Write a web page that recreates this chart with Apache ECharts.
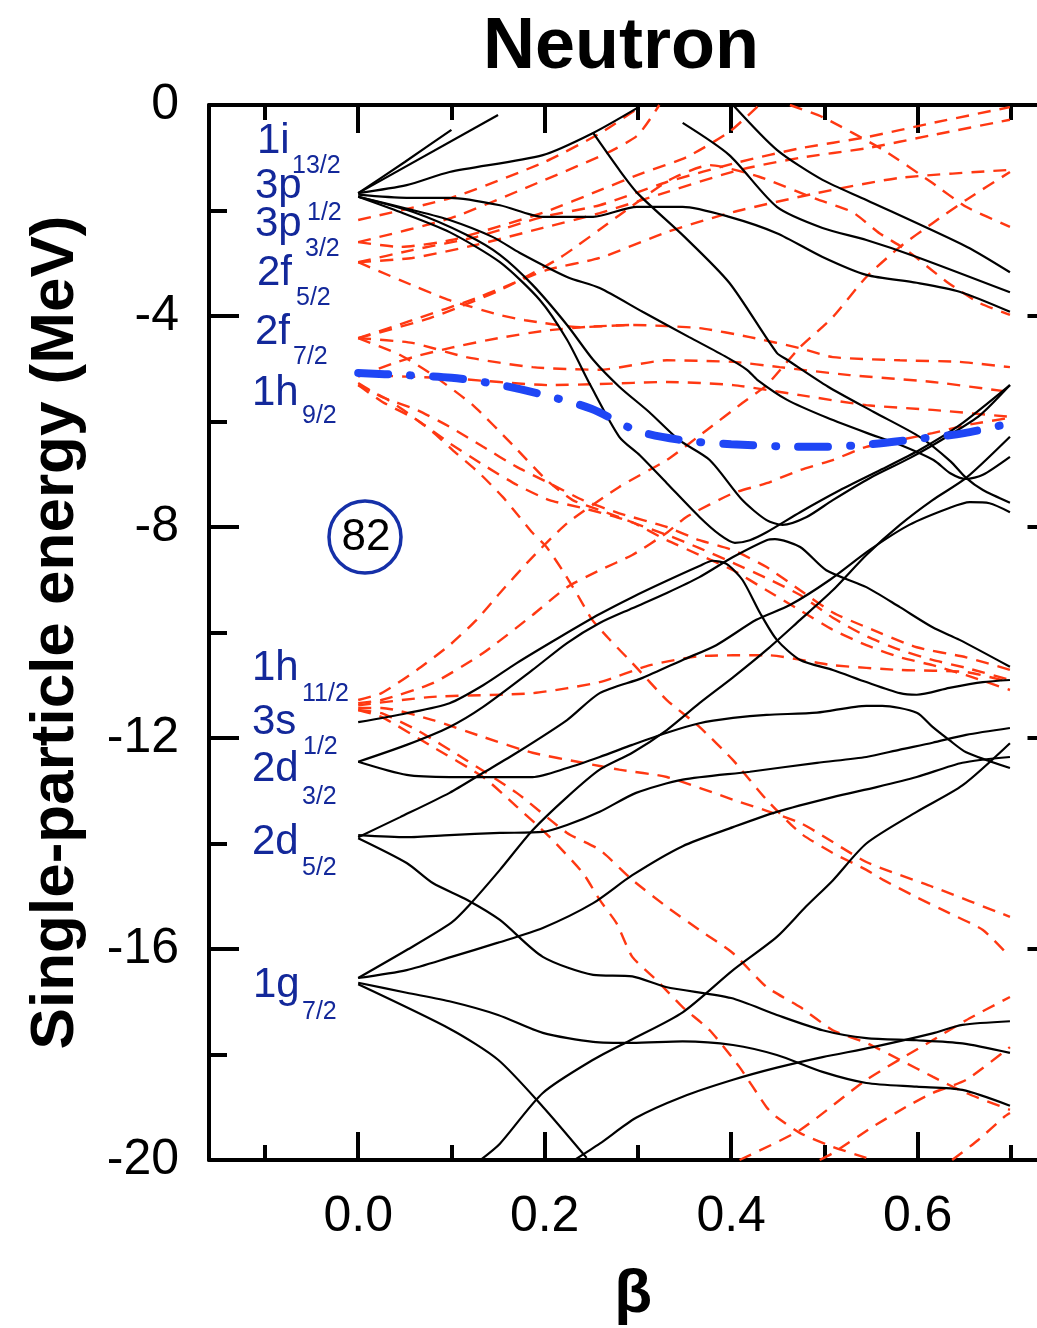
<!DOCTYPE html>
<html><head><meta charset="utf-8">
<script src="https://cdn.jsdelivr.net/npm/echarts@6/dist/echarts.min.js"></script>
<style>html,body{margin:0;padding:0;background:#fff}#c{width:1037px;height:1328px}</style>
</head><body><div id="c"></div>
<script>
// ---- axis ticks ----
const xMajorTicks = [0, 0.2, 0.4, 0.6];
const xMinorTicks = [-0.1, 0.1, 0.3, 0.5, 0.7];
const yMajorStep = 4, yMinorStep = 2;

// ---- blue highlighted level ----
const blueLevel = [[0,-5.08],[0.05,-5.12],[0.1,-5.17],[0.15,-5.3],[0.2,-5.5],[0.25,-5.76],[0.3,-6.18],[0.35,-6.36],[0.4,-6.43],[0.45,-6.47],[0.5,-6.48],[0.55,-6.43],[0.6,-6.33],[0.65,-6.22],[0.7,-6.03]];

// ---- black (positive parity) levels ----
const bI1 = [[0,-1.67],[0.05,-1.08],[0.1,-0.47]];
const bI2 = [[0,-1.67],[0.15,-0.19]];
const bI3 = [[0,-1.67],[0.052,-1.52],[0.098,-1.27],[0.198,-0.95],[0.252,-0.53],[0.299,-0.06]];
const bI4 = [[0,-1.7],[0.052,-1.76],[0.098,-1.76],[0.152,-1.9],[0.198,-2.12],[0.252,-2.12],[0.299,-1.93],[0.348,-1.93],[0.398,-2.12],[0.449,-2.43],[0.498,-2.88],[0.545,-3.22],[0.599,-3.37],[0.645,-3.54],[0.699,-3.92]];
const bI5 = [[0,-1.74],[0.058,-1.99],[0.098,-2.18],[0.144,-2.5],[0.173,-2.8],[0.224,-3.26],[0.259,-3.47],[0.305,-3.92],[0.355,-4.4],[0.395,-4.78],[0.417,-5.02],[0.428,-5.21],[0.46,-5.59],[0.503,-5.93],[0.546,-6.22],[0.581,-6.44],[0.617,-6.73],[0.635,-6.98],[0.652,-7.09],[0.67,-7.01],[0.699,-6.67]];
const bI6 = [[0,-1.74],[0.045,-2.03],[0.098,-2.41],[0.152,-2.98],[0.195,-3.7],[0.224,-4.45],[0.249,-5.31],[0.28,-6.29],[0.302,-6.64],[0.331,-7.17],[0.366,-7.81],[0.388,-8.15],[0.404,-8.3],[0.42,-8.25],[0.438,-8.1],[0.474,-7.72],[0.517,-7.3],[0.56,-6.92],[0.602,-6.54],[0.645,-6.07],[0.699,-5.31]];
const bI7 = [[0,-1.74],[0.059,-2.03],[0.116,-2.46],[0.152,-2.84],[0.187,-3.41],[0.224,-4.17],[0.252,-4.83],[0.28,-5.34],[0.312,-5.82],[0.344,-6.35],[0.377,-6.73],[0.412,-7.49],[0.438,-7.87],[0.455,-7.96],[0.481,-7.81],[0.509,-7.49],[0.549,-7.07],[0.592,-6.69],[0.634,-6.26],[0.667,-5.88],[0.699,-5.31]];
const bTop1 = [[0.402,0],[0.449,-0.85],[0.498,-1.42],[0.545,-1.8],[0.653,-2.69],[0.699,-3.17]];
const bTop2 = [[0.348,-0.34],[0.398,-0.95],[0.449,-1.93],[0.498,-2.33],[0.545,-2.56],[0.599,-2.88],[0.699,-3.55]];
const bDown1 = [[0.252,-0.53],[0.28,-1.23],[0.3,-1.68],[0.35,-2.5],[0.398,-3.37],[0.449,-4.7],[0.46,-4.83],[0.504,-5.34],[0.553,-5.82],[0.603,-6.3],[0.635,-6.75],[0.652,-7.07],[0.67,-7.3],[0.699,-7.54]];
const bS1 = [[0,-11.7],[0.052,-11.53],[0.098,-11.34],[0.134,-11.0],[0.17,-10.58],[0.216,-10.09],[0.259,-9.65],[0.294,-9.33],[0.331,-9.02],[0.366,-8.74],[0.38,-8.64],[0.395,-8.7],[0.412,-9.0],[0.431,-9.63],[0.449,-10.14],[0.474,-10.52],[0.509,-10.71],[0.545,-10.94],[0.581,-11.15],[0.599,-11.18],[0.634,-11.05],[0.67,-10.94],[0.699,-10.9]];
const bD1 = [[0,-12.45],[0.052,-12.13],[0.098,-11.79],[0.134,-11.41],[0.187,-10.71],[0.224,-10.2],[0.259,-9.82],[0.294,-9.54],[0.331,-9.25],[0.366,-8.95],[0.402,-8.57],[0.438,-8.25],[0.447,-8.23],[0.474,-8.38],[0.502,-8.82],[0.545,-9.14],[0.581,-9.52],[0.616,-9.9],[0.645,-10.14],[0.699,-10.65]];
const bD2 = [[0,-12.45],[0.052,-12.7],[0.098,-12.74],[0.15,-12.74],[0.187,-12.74],[0.224,-12.57],[0.259,-12.36],[0.294,-12.13],[0.331,-11.9],[0.366,-11.72],[0.402,-11.62],[0.438,-11.56],[0.492,-11.52],[0.545,-11.39],[0.562,-11.39],[0.599,-11.52],[0.616,-11.79],[0.634,-12.04],[0.652,-12.27],[0.699,-12.57]];
const bD5a = [[0,-13.88],[0.045,-13.5],[0.098,-13.04],[0.134,-12.66],[0.17,-12.28],[0.224,-11.66],[0.259,-11.15],[0.305,-10.86],[0.348,-10.52],[0.384,-10.24],[0.427,-9.76],[0.463,-9.48],[0.506,-9.0],[0.549,-8.43],[0.591,-7.96],[0.634,-7.64],[0.656,-7.53],[0.677,-7.55],[0.699,-7.72]];
const bD5b = [[0,-13.84],[0.052,-13.88],[0.098,-13.84],[0.152,-13.8],[0.198,-13.78],[0.224,-13.65],[0.259,-13.4],[0.298,-13.04],[0.348,-12.79],[0.42,-12.64],[0.492,-12.47],[0.545,-12.36],[0.581,-12.22],[0.616,-12.09],[0.652,-11.94],[0.699,-11.81]];
const bD5c = [[0,-13.9],[0.052,-14.37],[0.08,-14.75],[0.117,-15.07],[0.152,-15.45],[0.198,-16.15],[0.252,-16.49],[0.294,-16.52],[0.33,-16.72],[0.4,-16.93],[0.449,-17.25],[0.498,-17.54],[0.545,-17.69],[0.599,-17.73],[0.648,-17.79],[0.699,-17.97]];
const bG1 = [[0,-16.55],[0.052,-16.02],[0.1,-15.5],[0.119,-15.17],[0.152,-14.5],[0.187,-13.75],[0.224,-13.12],[0.259,-12.6],[0.294,-12.28],[0.331,-11.85],[0.366,-11.34],[0.402,-10.85],[0.438,-10.33],[0.474,-9.76],[0.509,-9.2],[0.545,-8.53],[0.581,-7.96],[0.616,-7.49],[0.652,-7.07],[0.699,-6.29]];
const bG2 = [[0,-16.55],[0.052,-16.4],[0.1,-16.15],[0.15,-15.88],[0.198,-15.6],[0.252,-15.13],[0.294,-14.6],[0.348,-14.05],[0.402,-13.69],[0.449,-13.4],[0.509,-13.12],[0.556,-12.93],[0.599,-12.74],[0.648,-12.47],[0.699,-12.36]];
const bG3 = [[0,-16.64],[0.052,-16.83],[0.1,-17.0],[0.15,-17.25],[0.198,-17.59],[0.252,-17.76],[0.294,-17.78],[0.348,-17.75],[0.402,-17.82],[0.449,-18.01],[0.498,-18.33],[0.545,-18.54],[0.599,-18.61],[0.648,-18.67],[0.699,-18.97]];
const bG4 = [[0,-16.67],[0.1,-17.53],[0.15,-18.1],[0.198,-18.99],[0.245,-19.96]];
const bLow1 = [[0.131,-20],[0.152,-19.69],[0.198,-18.73],[0.252,-18.1],[0.294,-17.71],[0.348,-17.2],[0.402,-16.4],[0.449,-15.77],[0.48,-15.2],[0.509,-14.7],[0.545,-14.0],[0.599,-13.4],[0.648,-12.9],[0.699,-12.1]];
const bLow2 = [[0.232,-20],[0.259,-19.69],[0.298,-19.2],[0.348,-18.8],[0.402,-18.48],[0.449,-18.25],[0.498,-18.05],[0.552,-17.86],[0.616,-17.6],[0.648,-17.44],[0.699,-17.37]];

// ---- red dashed (negative parity) levels ----
const r3p1 = [[0,-2.18],[0.1,-1.76],[0.2,-1.08],[0.26,-0.53],[0.3,-0.06]];
const r3p3a = [[0,-2.6],[0.1,-2.14],[0.2,-1.42],[0.267,-0.91],[0.3,-0.57],[0.323,0]];
const r3p3b = [[0,-2.6],[0.045,-2.69],[0.1,-2.56],[0.2,-2.03],[0.26,-1.61],[0.305,-1.29],[0.352,-0.99],[0.398,-0.51],[0.43,0]];
const r2f5a = [[0,-2.98],[0.058,-2.75],[0.127,-2.5],[0.198,-2.12],[0.259,-1.9],[0.331,-1.46],[0.409,-1.08],[0.474,-0.82],[0.545,-0.61],[0.616,-0.34],[0.699,-0.04]];
const r2f5b = [[0,-2.98],[0.058,-2.9],[0.127,-2.65],[0.198,-2.33],[0.259,-2.05],[0.331,-1.65],[0.409,-1.23],[0.474,-1.0],[0.545,-0.82],[0.616,-0.57],[0.699,-0.28]];
const r2f5c = [[0,-2.98],[0.045,-3.32],[0.098,-3.7],[0.152,-3.98],[0.179,-4.08],[0.238,-4.21],[0.294,-4.17],[0.366,-4.23],[0.42,-4.4],[0.474,-4.61],[0.509,-4.78],[0.581,-4.84],[0.645,-4.87],[0.699,-4.97]];
const r2f7a = [[0,-4.42],[0.058,-4.08],[0.13,-3.64],[0.202,-3.13],[0.259,-2.9],[0.331,-2.41],[0.402,-2.03],[0.492,-1.67],[0.581,-1.38],[0.699,-1.23]];
const r2f7b = [[0,-4.42],[0.077,-4.04],[0.152,-3.51],[0.216,-2.9],[0.28,-2.09],[0.334,-1.42],[0.377,-1.14],[0.43,-1.36],[0.494,-1.8],[0.53,-2.03],[0.559,-2.43],[0.588,-2.75],[0.631,-3.35],[0.666,-3.75],[0.699,-3.98]];
const r2f7c = [[0,-4.42],[0.058,-4.51],[0.116,-4.78],[0.187,-4.97],[0.259,-5.02],[0.331,-4.84],[0.402,-4.87],[0.452,-4.97],[0.527,-5.12],[0.616,-5.25],[0.699,-5.44]];
const r2f7d = [[0,-4.42],[0.045,-4.74],[0.08,-5.12],[0.123,-5.69],[0.166,-6.45],[0.202,-7.11],[0.23,-7.49],[0.259,-7.68],[0.294,-7.91],[0.331,-8.25],[0.366,-8.53],[0.402,-8.82],[0.438,-9.2],[0.474,-9.58],[0.509,-9.95],[0.545,-10.24],[0.581,-10.47],[0.616,-10.62],[0.652,-10.81],[0.699,-11.09]];
const r1h9a = [[0,-5.12],[0.098,-5.18],[0.205,-5.31],[0.259,-5.29],[0.331,-5.25],[0.402,-5.31],[0.474,-5.5],[0.545,-5.69],[0.616,-5.78],[0.699,-5.91]];
const r1h9b = [[0,-5.27],[0.026,-5.54],[0.063,-5.78],[0.098,-6.1],[0.134,-6.48],[0.17,-6.86],[0.205,-7.17],[0.241,-7.49],[0.28,-7.74],[0.331,-8.0],[0.366,-8.25],[0.402,-8.44],[0.438,-8.76],[0.474,-9.2],[0.509,-9.62],[0.545,-9.9],[0.599,-10.28],[0.652,-10.47],[0.699,-10.71]];
const r1h9c = [[0,-5.31],[0.026,-5.63],[0.063,-5.97],[0.098,-6.41],[0.134,-6.82],[0.17,-7.2],[0.205,-7.49],[0.241,-7.64],[0.28,-7.83],[0.331,-8.15],[0.366,-8.4],[0.402,-8.68],[0.438,-8.97],[0.474,-9.29],[0.509,-9.72],[0.545,-10.07],[0.581,-10.33],[0.616,-10.52],[0.652,-10.67],[0.699,-10.9]];
const r1h9d = [[0,-5.31],[0.029,-5.56],[0.053,-5.84],[0.08,-6.2],[0.105,-6.6],[0.13,-6.98],[0.155,-7.43],[0.173,-7.81],[0.187,-8.11],[0.202,-8.38],[0.219,-8.82],[0.234,-9.25],[0.251,-9.76],[0.27,-10.14],[0.294,-10.58],[0.331,-11.28],[0.366,-11.79],[0.402,-12.42],[0.438,-13.17],[0.474,-13.8],[0.509,-14.18],[0.545,-14.5],[0.563,-14.69],[0.599,-15.02],[0.634,-15.32],[0.67,-15.64],[0.699,-16.15]];
const r1h9e = [[0,-5.15],[0.037,-4.9],[0.065,-4.75],[0.1,-4.6],[0.15,-4.42],[0.2,-4.28],[0.25,-4.2],[0.294,-4.17]];
const rTop = [[0.463,0],[0.498,-0.23],[0.563,-0.85],[0.616,-1.48],[0.652,-1.93],[0.699,-2.31]];
const r1h11a = [[0,-11.47],[0.025,-11.6],[0.08,-12.17],[0.134,-12.74],[0.17,-13.3],[0.205,-13.87],[0.241,-14.56],[0.259,-15.07],[0.277,-15.51],[0.294,-16.15],[0.32,-16.59],[0.348,-17.1],[0.377,-17.54],[0.409,-18.24],[0.438,-19.0],[0.449,-19.19],[0.474,-19.49],[0.509,-19.75],[0.545,-19.96]];
const r1h11b = [[0,-11.47],[0.025,-11.53],[0.063,-11.85],[0.116,-12.42],[0.17,-13.04],[0.224,-13.8],[0.259,-14.12],[0.294,-14.69],[0.331,-15.2],[0.366,-15.64],[0.402,-16.08],[0.438,-16.72],[0.474,-17.1],[0.509,-17.54],[0.545,-17.78],[0.581,-18.1],[0.616,-18.42],[0.652,-18.73],[0.699,-19.05]];
const r1h11c = [[0,-11.43],[0.025,-11.43],[0.08,-11.66],[0.134,-11.98],[0.187,-12.28],[0.241,-12.47],[0.28,-12.6],[0.331,-12.74],[0.402,-13.17],[0.474,-13.61],[0.545,-14.35],[0.616,-14.82],[0.699,-15.39]];
const r1h11d = [[0,-11.38],[0.08,-11.22],[0.187,-11.15],[0.259,-10.94],[0.313,-10.62],[0.366,-10.45],[0.438,-10.43],[0.509,-10.62],[0.581,-10.71],[0.652,-10.75],[0.699,-10.94]];
const r1h11e = [[0,-11.34],[0.025,-11.28],[0.08,-10.96],[0.134,-10.39],[0.187,-9.67],[0.224,-9.14],[0.259,-8.82],[0.294,-8.53],[0.331,-8.11],[0.352,-7.81],[0.402,-7.36],[0.438,-7.17],[0.474,-6.92],[0.509,-6.73],[0.545,-6.48],[0.581,-6.35],[0.616,-6.22],[0.652,-6.07],[0.699,-5.93]];
const r1h11f = [[0,-11.28],[0.025,-11.15],[0.063,-10.71],[0.098,-10.24],[0.127,-9.76],[0.152,-9.25],[0.187,-8.57],[0.224,-7.93],[0.28,-7.24],[0.331,-6.73],[0.374,-6.16],[0.412,-5.65],[0.438,-5.31],[0.459,-4.89],[0.474,-4.59],[0.509,-4.02],[0.545,-3.26],[0.581,-2.69],[0.616,-2.24],[0.652,-1.8],[0.699,-1.27]];
const rLow1 = [[0.409,-20],[0.474,-19.43],[0.545,-18.48],[0.616,-17.73],[0.652,-17.35],[0.699,-16.91]];
const rLow2 = [[0.495,-20],[0.509,-19.87],[0.552,-19.37],[0.588,-18.99],[0.616,-18.73],[0.652,-18.48],[0.699,-17.86]];
const rLow3 = [[0.637,-20],[0.665,-19.62],[0.693,-19.18],[0.699,-19.11]];

const blackSeries = [bI1,bI2,bI3,bI4,bI5,bI6,bI7,bTop1,bTop2,bDown1,bS1,bD1,bD2,bD5a,bD5b,bD5c,bG1,bG2,bG3,bG4,bLow1,bLow2];
const redSeries = [r3p1,r3p3a,r3p3b,r2f5a,r2f5b,r2f5c,r2f7a,r2f7b,r2f7c,r2f7d,r1h9a,r1h9b,r1h9c,r1h9d,r1h9e,rTop,
  r1h11a,r1h11b,r1h11c,r1h11d,r1h11e,r1h11f,rLow1,rLow2,rLow3];

const FONT = '"Liberation Sans", Arial, Helvetica, sans-serif';
const series = [];
blackSeries.forEach(d => series.push({type:'line', data:d, symbol:'none', smooth:0.25, silent:true,
  lineStyle:{color:'#000', width:2.2}, z:3}));
redSeries.forEach(d => series.push({type:'line', data:d, symbol:'none', smooth:0.2, silent:true,
  lineStyle:{color:'#ff3812', width:2.4, type:[13,9]}, z:2}));
series.push({type:'line', data:blueLevel, symbol:'none', smooth:0.3, silent:true,
  lineStyle:{color:'#1f46f5', width:8, type:[30,22,1,22], cap:'round'}, z:5});

const tickStyle = {color:'#000', width:4, cap:'butt'};
function xAx(pos, vals, len, showLine, labels) {
  return {type:'value', min:-0.16, max:0.75, position:pos, gridIndex:0,
    axisLine:{show:showLine, onZero:false, lineStyle:{color:'#000', width:4}},
    axisTick:{show:true, inside:true, length:len, customValues:vals, lineStyle:tickStyle},
    axisLabel:labels ? {show:true, customValues:vals, formatter:v=>v.toFixed(1), fontSize:50, margin:32, color:'#000', fontFamily:FONT} : {show:false},
    splitLine:{show:false}};
}
function yAx(pos, step, len, showLine, labels) {
  return {type:'value', min:-20, max:0, interval:step, position:pos, gridIndex:0,
    axisLine:{show:showLine, onZero:false, lineStyle:{color:'#000', width:4}},
    axisTick:{show:true, inside:true, length:len, lineStyle:tickStyle},
    axisLabel:labels ? {show:true, fontSize:50, margin:30, color:'#000', fontFamily:FONT} : {show:false},
    splitLine:{show:false}};
}
const xb = xAx('bottom', xMajorTicks, 28, true, true);
xb.name = 'β'; xb.nameLocation = 'middle'; xb.nameGap = 104;
xb.nameTextStyle = {fontSize:62, fontWeight:'bold', color:'#000', fontFamily:FONT};
const yl = yAx('left', yMajorStep, 30, true, true);
yl.name = 'Single-particle energy (MeV)'; yl.nameLocation = 'middle'; yl.nameGap = 122; yl.nameRotate = 90;
yl.nameTextStyle = {fontSize:62, fontWeight:'bold', color:'#000', fontFamily:FONT};

const LBL = '#13289a';
const lvl = [
  ['1i',257,141,'13/2',292,166],
  ['3p',255,186,'1/2',307,213],
  ['3p',255,224,'3/2',305,249],
  ['2f',257,273,'5/2',296,298],
  ['2f',255,332,'7/2',293,357],
  ['1h',252,393,'9/2',302,416],
  ['1h',252,668,'11/2',302,694],
  ['3s',252,722,'1/2',303,747],
  ['2d',252,769,'3/2',302,797],
  ['2d',252,842,'5/2',302,868],
  ['1g',253,985,'7/2',302,1012]
];
const graphics = [];
lvl.forEach(l => {
  graphics.push({type:'text', x:l[1], y:l[2], style:{text:l[0], fontSize:42, fontFamily:FONT, fill:LBL, verticalAlign:'middle'}});
  graphics.push({type:'text', x:l[4], y:l[5], style:{text:l[3], fontSize:25, fontFamily:FONT, fill:LBL, verticalAlign:'middle'}});
});
graphics.push({type:'circle', shape:{cx:365, cy:537, r:36}, style:{fill:'none', stroke:'#1530a8', lineWidth:3.5}});
graphics.push({type:'text', x:366, y:538, style:{text:'82', fontSize:44, fontFamily:FONT, fill:'#000', align:'center', verticalAlign:'middle'}});
graphics.push({type:'text', x:621, y:48, style:{text:'Neutron', fontSize:72, fontWeight:'bold', fontFamily:FONT, fill:'#000', align:'center', verticalAlign:'middle'}});

const chart = echarts.init(document.getElementById('c'), null, {renderer:'canvas'});
chart.setOption({
  animation:false,
  backgroundColor:'#fff',
  grid:{left:209, top:105, width:848.5, height:1055, containLabel:false, outerBoundsMode:'none'},
  xAxis:[xb, xAx('bottom', xMinorTicks, 15, false, false), xAx('top', xMajorTicks, 28, true, false), xAx('top', xMinorTicks, 15, false, false)],
  yAxis:[yl, yAx('left', yMinorStep, 18, false, false), yAx('right', yMajorStep, 30, true, false), yAx('right', yMinorStep, 18, false, false)],
  series:series,
  graphic:graphics
});
</script></body></html>
